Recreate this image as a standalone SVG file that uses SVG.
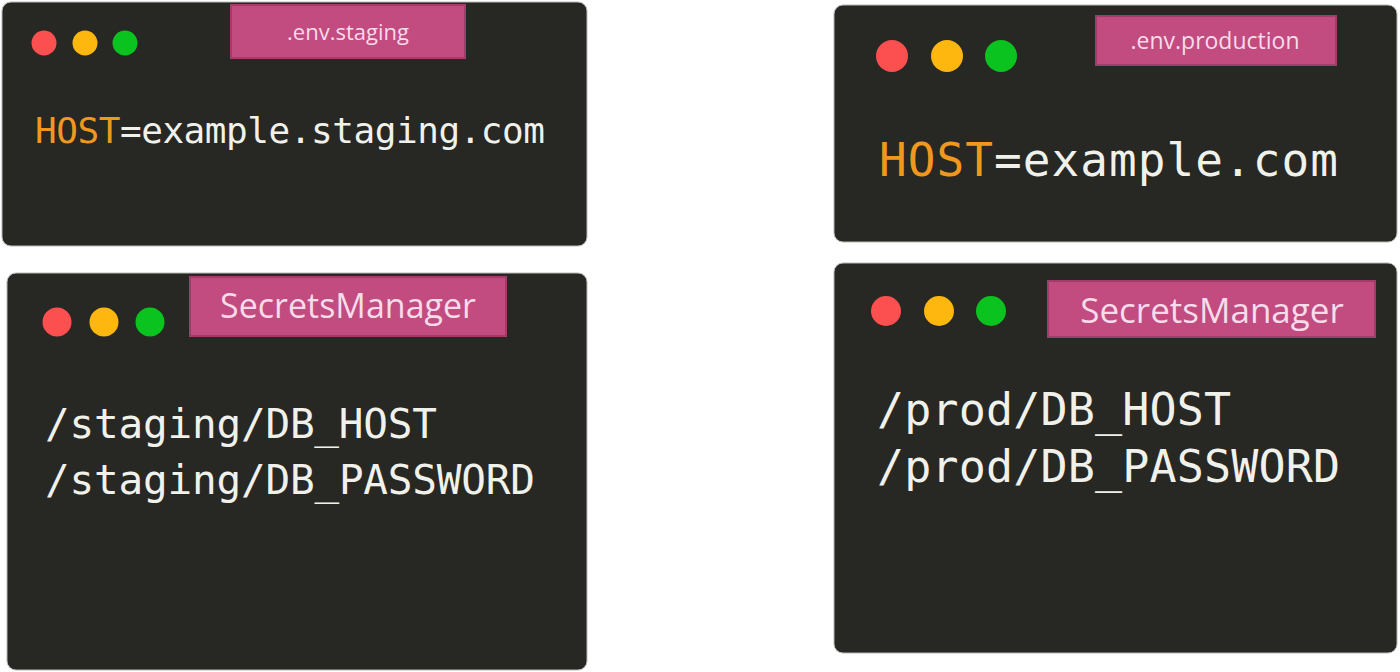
<svg xmlns="http://www.w3.org/2000/svg" width="1400" height="672" viewBox="0 0 1400 672">
  <style>
    .panel { fill: #272723; stroke: #b9b9b6; stroke-width: 1; }
    .red { fill: #fc5050; }
    .yellow { fill: #fdb70e; }
    .green { fill: #0ac31f; }
    .label { fill: #c24b80; stroke: #a23c6b; stroke-width: 2; }
    .ltext { font-family: "Open Sans", "Noto Sans", sans-serif; fill: #f6dcea; text-anchor: middle; }
    .code { font-family: "DejaVu Sans Mono", "Liberation Mono", monospace; fill: #f1f1ec; }
    .key { fill: #f0981e; }
  </style>
  <rect width="1400" height="672" fill="#ffffff"/>

  <g id="env-staging">
    <rect class="panel" x="2" y="2" width="585" height="244" rx="9"/>
    <circle class="red" cx="44" cy="43" r="12.5"/>
    <circle class="yellow" cx="85" cy="43" r="12.5"/>
    <circle class="green" cx="125" cy="43" r="12.5"/>
    <rect class="label" x="231" y="5" width="234" height="53"/>
    <text class="ltext" x="348" y="40" font-size="22">.env.staging</text>
    <text class="code" x="35" y="143" font-size="36" textLength="510" lengthAdjust="spacing"><tspan class="key">HOST</tspan>=example.staging.com</text>
  </g>

  <g id="env-production">
    <rect class="panel" x="834" y="5" width="563" height="237" rx="9"/>
    <circle class="red" cx="892" cy="56" r="16"/>
    <circle class="yellow" cx="947" cy="56" r="16"/>
    <circle class="green" cx="1001" cy="56" r="16"/>
    <rect class="label" x="1096" y="16" width="240" height="49"/>
    <text class="ltext" x="1215" y="49" font-size="23">.env.production</text>
    <text class="code" x="879" y="176" font-size="46" textLength="459" lengthAdjust="spacing"><tspan class="key">HOST</tspan>=example.com</text>
  </g>

  <g id="secrets-staging">
    <rect class="panel" x="7" y="273" width="580" height="397" rx="9"/>
    <circle class="red" cx="57" cy="322" r="14.5"/>
    <circle class="yellow" cx="104" cy="322" r="14.5"/>
    <circle class="green" cx="150" cy="322" r="14.5"/>
    <rect class="label" x="190" y="277" width="316" height="59"/>
    <text class="ltext" x="348" y="318" font-size="34">SecretsManager</text>
    <text class="code" x="45" y="438" font-size="41" textLength="392" lengthAdjust="spacing">/staging/DB_HOST</text>
    <text class="code" x="45" y="494" font-size="41" textLength="490" lengthAdjust="spacing">/staging/DB_PASSWORD</text>
  </g>

  <g id="secrets-production">
    <rect class="panel" x="834" y="263" width="563" height="390" rx="9"/>
    <circle class="red" cx="886" cy="311" r="15"/>
    <circle class="yellow" cx="939" cy="311" r="15"/>
    <circle class="green" cx="991" cy="311" r="15"/>
    <rect class="label" x="1048" y="281" width="327" height="56"/>
    <text class="ltext" x="1212" y="323" font-size="35">SecretsManager</text>
    <text class="code" x="877" y="425" font-size="45" textLength="354" lengthAdjust="spacing">/prod/DB_HOST</text>
    <text class="code" x="877" y="482" font-size="45" textLength="463" lengthAdjust="spacing">/prod/DB_PASSWORD</text>
  </g>

  <g id="connectors"></g>
</svg>
